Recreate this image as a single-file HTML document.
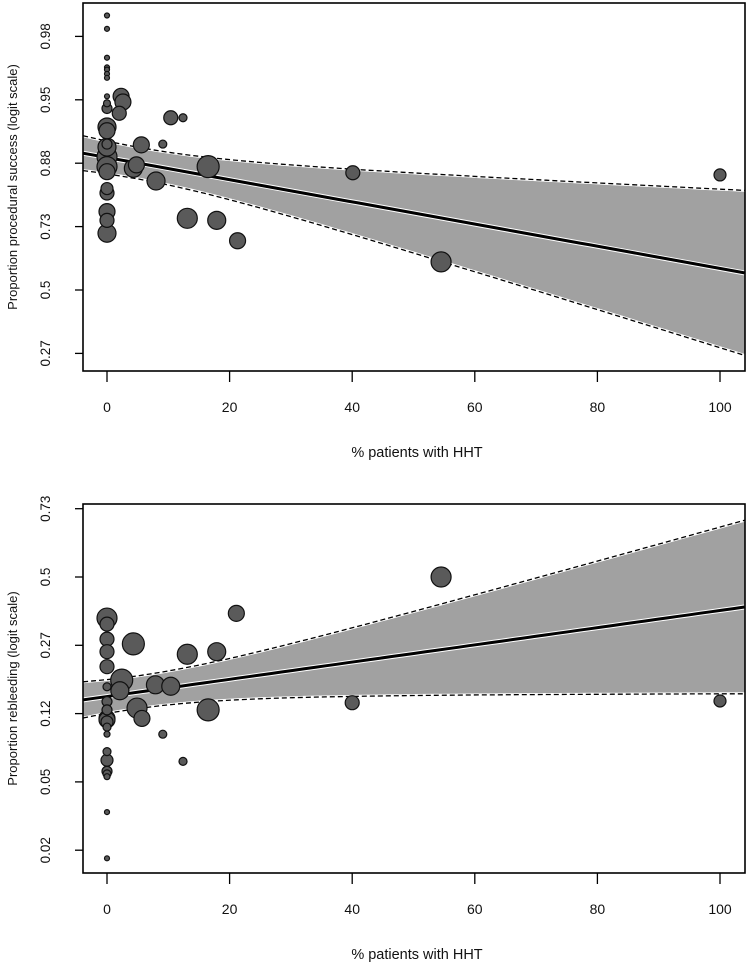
<!DOCTYPE html>
<html><head><meta charset="utf-8"><style>
html,body{margin:0;padding:0;background:#fff;}
svg{display:block;font-family:"Liberation Sans",Arial,sans-serif;}
</style></head><body>
<svg id="chart" width="750" height="964" viewBox="0 0 750 964"></svg>
<script>
// ---- data: panel A (procedural success) ----
const xTicks = [0, 20, 40, 60, 80, 100];
const succTickLabels = ["0.98", "0.95", "0.88", "0.73", "0.5", "0.27"];
const succTickLogits = [4, 3, 2, 1, 0, -1];
const succX = [0,0,0,0,0,0,0,0,0,0,2.3,2.6,2.0,10.4,12.4,0,0,9.1,0,0,0,0,0,5.6,4.8,4.3,8.0,16.5,0,0,0,0,0,13.1,17.9,21.3,40.1,54.5,100];
const succP = [.987,.984,.975,.971,.970,.968,.966,.955,.950,.946,.955,.951,.942,.938,.938,.929,.925,.909,.909,.905,.891,.875,.866,.908,.878,.872,.848,.875,.832,.822,.775,.75,.71,.756,.75,.685,.864,.609,.86];
const succSize = [2.5,2.5,2.5,2.5,2.5,2.5,2.5,2.5,3.5,5,8,8,7,7,4,9,8,4,5,9,10,10,8,8,8,9,9,11,6,7,8,7,9,10,9,8,7,10,6];
const succFit = {intercept: 2.09, slope: -0.0175, h0: 0.25, xc: 5, k: 0.0129};

// ---- data: panel B (rebleeding) ----
const rebTickLabels = ["0.73", "0.5", "0.27", "0.12", "0.05", "0.02"];
const rebTickLogits = [1, 0, -1, -2, -3, -4];
const rebX = [0,0,0,0,0,0,0,0,0,0,0,0,0,0,0,0,0,0,0,0,4.3,2.4,2.1,4.9,5.7,7.9,10.4,9.1,12.4,13.1,17.9,16.5,21.1,54.5,40,100];
const rebP = [.354,.334,.287,.251,.212,.167,.139,.125,.112,.110,.107,.10,.091,.072,.064,.055,.053,.051,.031,.016,.273,.181,.159,.128,.112,.171,.168,.091,.063,.244,.251,.125,.37,.5,.137,.14];
const rebSize = [10,7,7,7,7,4,5,5,8,8,6,4,3,4,6,5,4,3,2.5,2.5,11,11,9,10,8,9,9,4,4,10,9,11,8,10,7,6];
const rebFit = {intercept: -1.75, slope: 0.0126, h0: 0.24, xc: 5, k: 0.0126};

const NS = "http://www.w3.org/2000/svg";
const svg = document.getElementById('chart');
function mk(tag, attrs, parent){const e=document.createElementNS(NS,tag);for(const k in attrs)e.setAttribute(k,attrs[k]);(parent||svg).appendChild(e);return e;}
const logit = p => Math.log(p/(1-p));

function panel(cfg){
  const g = mk('g',{});
  
  
  const L=83, R=745, T=cfg.top, B=cfg.bottom;
  const xMin=-3.9, xMax=104;
  const sx = v => 107 + (v)*6.13;
  const sy = l => cfg.y0 - l*cfg.yUnit;
  const cid='clip'+cfg.id;
  const cp=mk('clipPath',{id:cid},g); mk('rect',{x:L,y:T,width:R-L,height:B-T},cp);
  const inner=mk('g',{'clip-path':'url(#'+cid+')'},g);
  const f=cfg.fit;
  const N=60, up=[], lo=[], mid=[];
  for(let i=0;i<=N;i++){
    const x=xMin+(xMax-xMin)*i/N;
    const m=f.intercept+f.slope*x;
    const h=Math.sqrt(f.h0*f.h0+Math.pow(f.k*(x-f.xc),2));
    up.push([sx(x),sy(m+h)]); lo.push([sx(x),sy(m-h)]); mid.push([sx(x),sy(m)]);
  }
  const pts=a=>a.map(p=>p[0].toFixed(1)+','+p[1].toFixed(1)).join(' ');
  const band=mk('polygon',{points:pts(up)+' '+pts(lo.slice().reverse()),fill:'#a1a1a1'},inner);
  
  
  [up,lo].forEach((a,i)=>{
    mk('polyline',{points:pts(a),fill:'none',stroke:'#fff',"stroke-width":3},inner);
    const d=mk('polyline',{points:pts(a),fill:'none',stroke:'#000',"stroke-width":1.3,"stroke-dasharray":"5,3"},inner);
    
    
  });
  mk('polyline',{points:pts(mid),fill:'none',stroke:'#fff',"stroke-width":5},inner);
  const rl=mk('polyline',{points:pts(mid),fill:'none',stroke:'#000',"stroke-width":3},inner);
  
  
  const idx=cfg.xs.map((_,i)=>i).sort((a,b)=>cfg.size[b]-cfg.size[a]);
  idx.forEach(i=>{
    const c=mk('circle',{cx:sx(cfg.xs[i]),cy:sy(logit(cfg.ps[i])),r:cfg.size[i],fill:'#5a5a5a',stroke:'#111',"stroke-width":1.2},inner);
    
    
  });
  const box=mk('rect',{x:L,y:T,width:R-L,height:B-T,fill:'none',stroke:'#000',"stroke-width":1.6},g);
  
  
  xTicks.forEach(t=>{
    mk('line',{x1:sx(t),x2:sx(t),y1:B,y2:B+11,stroke:'#000',"stroke-width":1.3},g);
    const tx=mk('text',{x:sx(t),y:B+41,"text-anchor":"middle","font-size":14,fill:'#111'},g);
    tx.textContent=t;
    
    
  });
  cfg.tickLogits.forEach((l,i)=>{
    const y=sy(l);
    mk('line',{x1:L,x2:L-8,y1:y,y2:y,stroke:'#000',"stroke-width":1.3},g);
    const tx=mk('text',{x:0,y:0,"text-anchor":"middle","font-size":13.5,fill:'#111',transform:`translate(50,${y}) rotate(-90)`},g);
    tx.textContent=cfg.tickLabels[i];
    
    
  });
  const xt=mk('text',{x:417,y:B+86,"text-anchor":"middle","font-size":14.5,fill:'#111'},g);
  xt.textContent='% patients with HHT';
  
  
  const yt=mk('text',{x:0,y:0,"text-anchor":"middle","font-size":13,fill:'#111',transform:`translate(17,${(T+B)/2}) rotate(-90)`},g);
  yt.textContent=cfg.yTitle;
  
  
}

panel({id:1,name:'procedural-success-panel',top:3,bottom:371,y0:290,yUnit:63.4,fit:succFit,xs:succX,ps:succP,size:succSize,
  tickLogits:succTickLogits,tickLabels:succTickLabels,yTitle:'Proportion procedural success (logit scale)'});
panel({id:2,name:'rebleeding-panel',top:504,bottom:873,y0:577,yUnit:68.3,fit:rebFit,xs:rebX,ps:rebP,size:rebSize,
  tickLogits:rebTickLogits,tickLabels:rebTickLabels,yTitle:'Proportion rebleeding (logit scale)'});
</script>
</body></html>
